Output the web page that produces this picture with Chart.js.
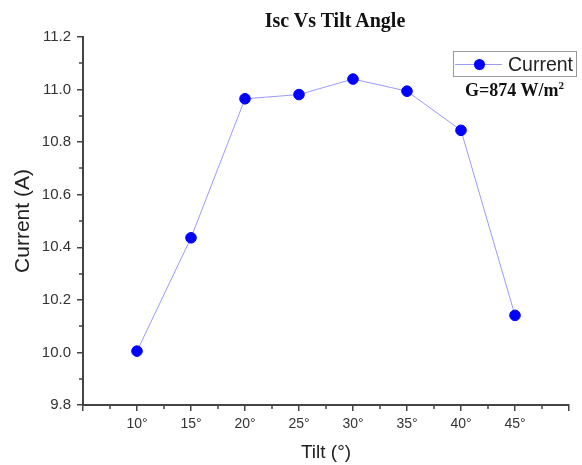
<!DOCTYPE html>
<html>
<head>
<meta charset="utf-8">
<script src="https://cdn.jsdelivr.net/npm/chart.js@4"></script>
<style>
  body { margin: 0; background: #fff; overflow: hidden; }
  .wrap { position: relative; width: 582px; height: 465px; overflow: hidden; }
  .title { position: absolute; left: 0; width: 670px; top: 9px; line-height: 20px; text-align: center;
           font: bold 20px "Liberation Serif", "Times New Roman", serif; color: #111; }
  .legend { position: absolute; left: 453px; top: 51px; width: 124px; height: 26px;
            border: 1px solid #999; box-sizing: border-box; background: #fff; }
  .legend .ln { position: absolute; left: 1px; top: 12px; width: 47px; height: 1px; background: #9a9aff; }
  .legend .dot { position: absolute; left: 20px; top: 7px; width: 11px; height: 11px; border-radius: 50%; background: #0000ff; }
  .legend .txt { position: absolute; left: 54px; top: 1px; line-height: 20px;
                 font: 19.5px "Liberation Sans", Arial, sans-serif; color: #222; }
  .note { position: absolute; left: 465px; top: 80px; line-height: 18px;
          font: bold 18px "Liberation Serif", "Times New Roman", serif; color: #111; }
  .note sup { font-size: 11px; line-height: 0; }
</style>
</head>
<body>
<div class="wrap">
  <canvas id="chart" width="582" height="465"></canvas>
  <div class="title">Isc Vs Tilt Angle</div>
  <div class="legend"><div class="ln"></div><div class="dot"></div><div class="txt">Current</div></div>
  <div class="note">G=874 W/m<sup>2</sup></div>
</div>
<script>
const tilt = [10, 15, 20, 25, 30, 35, 40, 45];
const current = [10.005, 10.436, 10.965, 10.981, 11.040, 10.994, 10.845, 10.141];
const xTicks = [10, 15, 20, 25, 30, 35, 40, 45];
const yTicks = [9.8, 10.0, 10.2, 10.4, 10.6, 10.8, 11.0, 11.2];

const axisColor = "#444";
const labelColor = "#333";

// short ticks between the labelled ones
const minorTicks = {
  id: "minorTicks",
  afterDraw(chart) {
    const ctx = chart.ctx;
    const x = chart.scales.x, y = chart.scales.y;
    ctx.save();
    ctx.strokeStyle = axisColor;
    ctx.lineWidth = 1.5;
    ctx.beginPath();
    for (let v = 7.5; v < 50; v += 5) {
      const px = Math.round(x.getPixelForValue(v));
      ctx.moveTo(px, y.bottom);
      ctx.lineTo(px, y.bottom + 4);
    }
    for (let v = 9.9; v < 11.2; v += 0.2) {
      const py = Math.round(y.getPixelForValue(v));
      ctx.moveTo(x.left - 4, py);
      ctx.lineTo(x.left, py);
    }
    ctx.stroke();
    ctx.restore();
  }
};

new Chart(document.getElementById("chart"), {
  type: "line",
  data: {
    datasets: [{
      label: "Current",
      data: tilt.map((t, i) => ({ x: t, y: current[i] })),
      borderColor: "#9a9aff",
      borderWidth: 1,
      backgroundColor: "#0000ff",
      pointBackgroundColor: "#0000ff",
      pointBorderColor: "#0000ff",
      pointRadius: 5.3,
      tension: 0
    }]
  },
  options: {
    responsive: false,
    animation: false,
    layout: { padding: { left: 0, right: 13, top: 37, bottom: 0 } },
    plugins: { legend: { display: false }, title: { display: false }, tooltip: { enabled: false } },
    scales: {
      x: {
        type: "linear",
        min: 5, max: 50,
        afterBuildTicks: s => { s.ticks = [5, ...xTicks, 50].map(v => ({ value: v })); },
        afterFit: s => { s.height = 60; },
        ticks: {
          callback: v => xTicks.includes(v) ? v + "°" : "",
          color: labelColor,
          font: { family: "Liberation Sans, Arial", size: 14 },
          padding: 5,
          maxRotation: 0,
          autoSkip: false
        },
        grid: { drawOnChartArea: false, drawTicks: true, tickLength: 6, color: axisColor, lineWidth: 1.5 },
        border: { color: axisColor, width: 2 },
        title: { display: true, text: "Tilt (°)", color: "#222",
                 font: { family: "Liberation Sans, Arial", size: 19 }, padding: { top: 0, bottom: 1 } }
      },
      y: {
        min: 9.8, max: 11.2,
        afterBuildTicks: s => { s.ticks = yTicks.map(v => ({ value: v })); },
        afterFit: s => { s.width = 83; },
        ticks: {
          callback: v => v.toFixed(1),
          color: labelColor,
          font: { family: "Liberation Sans, Arial", size: 15 },
          padding: 6
        },
        grid: { drawOnChartArea: false, drawTicks: true, tickLength: 6, color: axisColor, lineWidth: 1.5 },
        border: { color: axisColor, width: 2 },
        title: { display: true, text: "Current (A)", color: "#222",
                 font: { family: "Liberation Sans, Arial", size: 21 }, padding: { top: 11, bottom: 0 } }
      }
    }
  },
  plugins: [minorTicks]
});
</script>
</body>
</html>
